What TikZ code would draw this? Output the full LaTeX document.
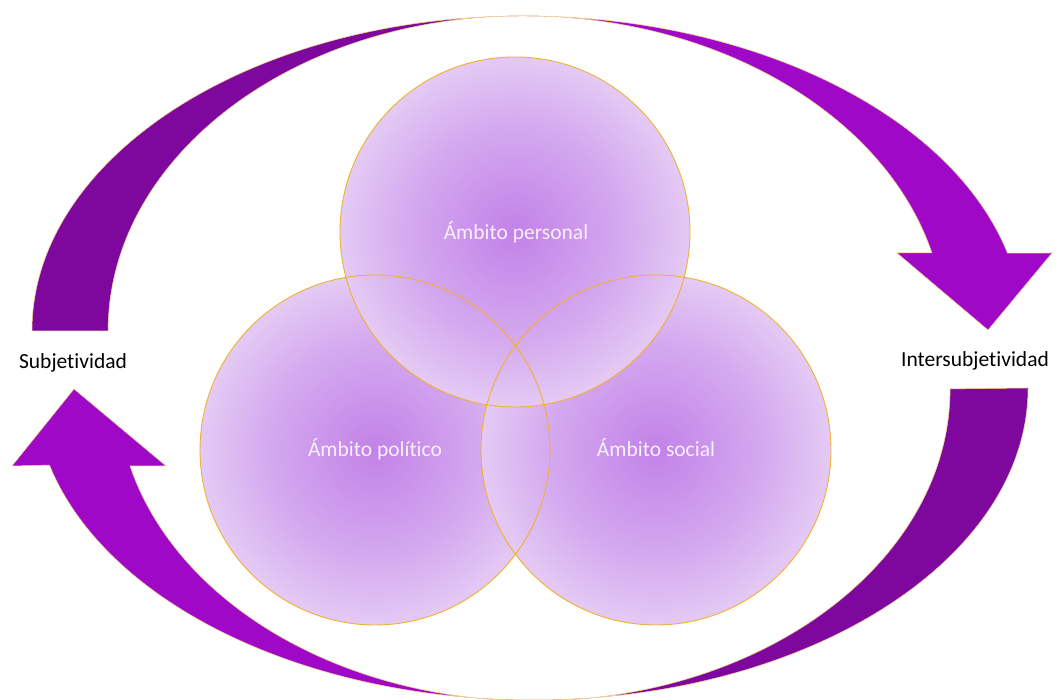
\documentclass[tikz,border=0pt]{standalone}
\usepackage{fontspec}
\setmainfont{Carlito}[Ligatures=NoCommon]
\definecolor{dkp}{HTML}{7E089E}
\definecolor{brp}{HTML}{A008C8}
\definecolor{vc}{HTML}{C282E8}
\definecolor{vm}{HTML}{D4A8EF}
\definecolor{ve}{HTML}{E4CAF4}
\definecolor{gold}{HTML}{F0B030}
\definecolor{txtw}{HTML}{F8F0FC}
\pgfdeclarehorizontalshading{toparrow}{100bp}{color(0bp)=(dkp); color(46bp)=(dkp); color(54bp)=(brp); color(100bp)=(brp)}
\pgfdeclarehorizontalshading{botarrow}{100bp}{color(0bp)=(brp); color(46bp)=(brp); color(54bp)=(dkp); color(100bp)=(dkp)}
\pgfdeclareradialshading{venn}{\pgfpoint{0bp}{0bp}}{color(0bp)=(vc); color(15bp)=(vm); color(25bp)=(ve); color(50bp)=(ve)}
\begin{document}
\begin{tikzpicture}[x=1pt,y=1pt,
  arrowshape/.style={draw=gold!60, line width=0.5pt},
  venncircle/.style={circle, minimum size=350pt, inner sep=0pt, shading=venn},
  ring/.style={draw=gold, line width=0.9pt},
  inlbl/.style={text=txtw, font=\fontsize{21.5}{25}\selectfont, anchor=base, inner sep=0pt},
  outlbl/.style={text=black, font=\fontsize{21.5}{25}\selectfont, anchor=base, inner sep=0pt}]
\useasboundingbox (0,0) rectangle (1059,700);
% top curved arrow
\path[arrowshape, shading=toparrow]
  (32,369) arc[start angle=180, end angle=90, x radius=491, y radius=315]
  arc[start angle=90, end angle=14.3, x radius=500, y radius=315]
  -- (1052,447) -- (988,370) -- (897,447) -- (932,447)
  arc[start angle=14.3, end angle=90, x radius=422, y radius=315]
  arc[start angle=90, end angle=180, x radius=415, y radius=315]
  -- cycle;
% bottom curved arrow
\path[arrowshape, shading=botarrow]
  (1028,312) arc[start angle=0, end angle=-90, x radius=495, y radius=312]
  arc[start angle=-90, end angle=-165.7, x radius=499, y radius=312]
  -- (12,234) -- (74,311) -- (166,234) -- (130,234)
  arc[start angle=-165.7, end angle=-90, x radius=416, y radius=312]
  arc[start angle=-90, end angle=0, x radius=417, y radius=312]
  -- cycle;
% circles
\node[venncircle] (pol) at (375,250) {};
\node[venncircle] (soc) at (656,250) {};
\node[venncircle] (per) at (515,468) {};
\foreach \n in {pol,soc,per} \draw[ring] (\n.center) circle[radius=175];
% labels
\node[inlbl] (tper) at (516,460) {Ámbito personal};
\node[inlbl] (tpol) at (375,243) {Ámbito político};
\node[inlbl] (tsoc) at (656,243) {Ámbito social};
\node[outlbl] (subj) at (73,331) {Subjetividad};
\node[outlbl] (inter) at (975,333) {Intersubjetividad};
\end{tikzpicture}
\end{document}
